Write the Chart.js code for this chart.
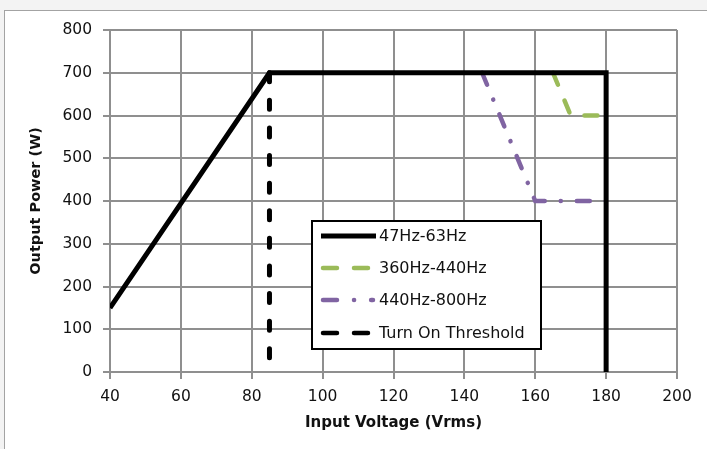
<!DOCTYPE html>
<html>
<head>
<meta charset="utf-8">
<script src="https://cdn.jsdelivr.net/npm/chart.js@4/dist/chart.umd.min.js"></script>
<style>
  html, body { margin: 0; padding: 0; background: #f3f3f3; }
  #wrap { position: relative; width: 707px; height: 449px; overflow: hidden; }
  #frame { position: absolute; left: 4px; top: 10px; width: 720px; height: 460px;
           background: #ffffff; border: 1.5px solid #a3a3a3; box-sizing: border-box; }
  #c { position: absolute; left: 0; top: 0; }
</style>
</head>
<body>
<div id="wrap">
  <div id="frame"></div>
  <canvas id="c" width="707" height="449"></canvas>
</div>
<script>
// Power derating curves: output power vs. input voltage
const seriesNames = ['47Hz-63Hz', '360Hz-440Hz', '440Hz-800Hz', 'Turn On Threshold'];

const lowFreqVolts  = [40, 85, 180, 180];
const lowFreqWatts  = [150, 700, 700, 0];

const midFreqVolts  = [165, 170, 180];
const midFreqWatts  = [700, 600, 600];

const highFreqVolts = [145, 160, 180];
const highFreqWatts = [700, 400, 400];

const thresholdVolts = [85, 85];
const thresholdWatts = [700, 20];

const xTicks = [40, 60, 80, 100, 120, 140, 160, 180, 200];
const yTicks = [0, 100, 200, 300, 400, 500, 600, 700, 800];

const toPoints = (xs, ys) => xs.map((x, i) => ({ x: x, y: ys[i] }));

const FONT = "'DejaVu Sans', sans-serif";
const GRID = '#8f8f8f';

// Legend sample styles (line drawn in the boxed legend)
const legendStyles = [
  { color: '#000000', width: 5, dash: [] , cap: 'butt' },
  { color: '#9BBB59', width: 4.5, dash: [14, 17], cap: 'round' },
  { color: '#8064A2', width: 4.5, dash: [14, 17, 0.1, 17], cap: 'round' },
  { color: '#000000', width: 4.5, dash: [14, 17], cap: 'round' }
];

const boxedLegend = {
  id: 'boxedLegend',
  afterDraw(chart) {
    const ctx = chart.ctx;
    const box = { left: 312, top: 221, right: 541, bottom: 349 };
    ctx.save();
    ctx.fillStyle = '#ffffff';
    ctx.fillRect(box.left, box.top, box.right - box.left, box.bottom - box.top);
    ctx.strokeStyle = '#000000';
    ctx.lineWidth = 2;
    ctx.strokeRect(box.left, box.top, box.right - box.left, box.bottom - box.top);
    const rows = [236, 268, 300, 333];
    chart.data.datasets.forEach((ds, i) => {
      const st = legendStyles[i];
      const y = rows[i];
      ctx.beginPath();
      ctx.setLineDash(st.dash);
      ctx.lineCap = st.cap;
      ctx.strokeStyle = st.color;
      ctx.lineWidth = st.width;
      ctx.moveTo(st.cap === 'round' ? 323 : 321, y);
      ctx.lineTo(st.cap === 'round' ? 373 : 376, y);
      ctx.stroke();
      ctx.setLineDash([]);
      ctx.fillStyle = '#111111';
      ctx.font = "16px " + FONT;
      ctx.textBaseline = 'middle';
      ctx.textAlign = 'left';
      ctx.fillText(ds.label, 379, y + 1);
    });
    ctx.restore();
  }
};

new Chart(document.getElementById('c'), {
  type: 'scatter',
  data: {
    datasets: [
      { label: seriesNames[0], data: toPoints(lowFreqVolts, lowFreqWatts),
        borderColor: '#000000', borderWidth: 5, borderJoinStyle: 'miter', borderCapStyle: 'butt' },
      { label: seriesNames[1], data: toPoints(midFreqVolts, midFreqWatts),
        borderColor: '#9BBB59', borderWidth: 4.5, borderDash: [13, 17], borderCapStyle: 'round' },
      { label: seriesNames[2], data: toPoints(highFreqVolts, highFreqWatts),
        borderColor: '#8064A2', borderWidth: 4.5, borderDash: [13, 16, 0.1, 16], borderCapStyle: 'round' },
      { label: seriesNames[3], data: toPoints(thresholdVolts, thresholdWatts),
        borderColor: '#000000', borderWidth: 5, borderDash: [9, 18.6], borderCapStyle: 'round' }
    ].map(d => Object.assign({ showLine: true, pointRadius: 0, pointHoverRadius: 0,
                               fill: false, tension: 0, backgroundColor: d.borderColor }, d))
  },
  options: {
    responsive: false,
    animation: false,
    events: [],
    layout: { padding: { left: 0, top: 30, right: 30, bottom: 0 } },
    plugins: { legend: { display: false }, tooltip: { enabled: false } },
    scales: {
      x: {
        type: 'linear', min: 40, max: 200,
        afterBuildTicks: s => { s.ticks = xTicks.map(v => ({ value: v })); },
        afterFit: s => { s.height = 77; },
        grid: { color: GRID, lineWidth: 2, tickLength: 7, tickColor: GRID, tickWidth: 2 },
        border: { color: GRID, width: 2 },
        ticks: { color: '#111111', font: { family: FONT, size: 15.5 }, padding: 9, maxRotation: 0 },
        title: { display: true, text: 'Input Voltage (Vrms)', color: '#111111',
                 font: { family: FONT, size: 15, weight: 'bold' }, padding: { top: 0, bottom: 17 } }
      },
      y: {
        type: 'linear', min: 0, max: 800,
        afterBuildTicks: s => { s.ticks = yTicks.map(v => ({ value: v })); },
        afterFit: s => { s.width = 110; },
        grid: { color: GRID, lineWidth: 2, tickLength: 7, tickColor: GRID, tickWidth: 2 },
        border: { color: GRID, width: 2 },
        ticks: { color: '#111111', font: { family: FONT, size: 15.5 }, padding: 11 },
        title: { display: true, text: 'Output Power (W)', color: '#111111',
                 font: { family: FONT, size: 14.5, weight: 'bold' }, padding: { top: 28, bottom: 0 } }
      }
    }
  },
  plugins: [boxedLegend]
});
</script>
</body>
</html>
